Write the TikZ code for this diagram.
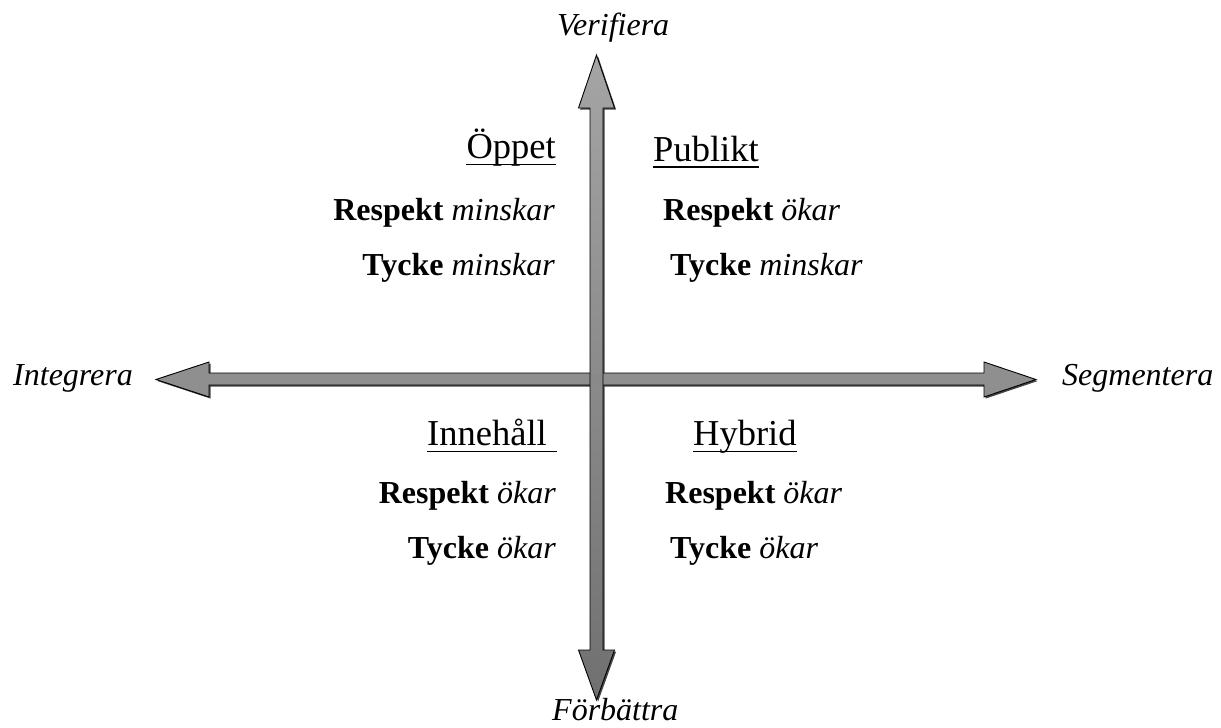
\documentclass[tikz,border=0pt]{standalone}
\usepackage{fontspec}
\setmainfont{Liberation Serif}
\definecolor{hgray}{RGB}{143,143,143}
\definecolor{vtop}{RGB}{165,165,165}
\definecolor{vbot}{RGB}{112,112,112}
\definecolor{shad}{RGB}{70,70,70}
\begin{document}
\begin{tikzpicture}[x=1pt,y=-1pt,
  lbl/.style={inner sep=0pt,font=\fontsize{32}{38}\selectfont},
  head/.style={inner sep=0pt,font=\fontsize{36.5}{42}\selectfont},
  ax/.style={inner sep=0pt,font=\fontsize{32}{38}\selectfont\itshape},
  uline/.style={line width=1.8pt},
  outl/.style={draw=black,line width=0.9pt,line join=miter}]
\useasboundingbox (0,0) rectangle (1221,728);
% arrow shapes
\def\varrow{(596.5,55) -- (614.5,108) -- (603,108) -- (603,650) -- (614.5,650) -- (596.5,700) -- (578.5,650) -- (590,650) -- (590,108) -- (578.5,108) -- cycle}
\def\harrow{(156,379.5) -- (209,362) -- (209,373) -- (984,373) -- (984,362) -- (1036,379.5) -- (984,397) -- (984,385) -- (209,385) -- (209,397) -- cycle}
% shadows
\begin{scope}[shift={(1.6,1.6)}]
\fill[shad] \harrow;
\fill[shad] \varrow;
\end{scope}
% arrows
\path[outl,fill=hgray] \harrow;
\path[outl,top color=vtop,bottom color=vbot] \varrow;
\fill[hgray!96!black] (590.6,373.6) rectangle (602.4,384.4);
% axis labels
\node[ax,anchor=base west] (ver) at (557,35) {Verifiera};
\node[ax,anchor=base west] (forb) at (552,720) {Förbättra};
\node[ax,anchor=base west] (integ) at (13,385) {Integrera};
\node[ax,anchor=base west] (segm) at (1062,385) {Segmentera};
% upper left
\node[head,anchor=base east] (oppet) at (556,158) {Öppet};
\draw[uline] ([yshift=-6.5pt]oppet.base west) -- ([yshift=-6.5pt]oppet.base east);
\node[lbl,anchor=base east] (ul1) at (555,220) {\textbf{Respekt} \textit{minskar}};
\node[lbl,anchor=base east] (ul2) at (555,275) {\textbf{Tycke} \textit{minskar}};
% upper right
\node[head,anchor=base west] (publ) at (653,161) {Publikt};
\draw[uline] ([yshift=-6pt]publ.base west) -- ([yshift=-6pt]publ.base east);
\node[lbl,anchor=base west] (ur1) at (663,220) {\textbf{Respekt} \textit{ökar}};
\node[lbl,anchor=base west] (ur2) at (670,275) {\textbf{Tycke} \textit{minskar}};
% lower left
\node[head,anchor=base west] (inneh) at (427,445) {Innehåll};
\coordinate (innehend) at (557,445);
\draw[uline] ([yshift=-6.5pt]inneh.base west) -- ([yshift=-6.5pt]innehend);
\node[lbl,anchor=base east] (ll1) at (556,503) {\textbf{Respekt} \textit{ökar}};
\node[lbl,anchor=base east] (ll2) at (556,558) {\textbf{Tycke} \textit{ökar}};
% lower right
\node[head,anchor=base west] (hyb) at (693,445) {Hybrid};
\draw[uline] ([yshift=-6.5pt]hyb.base west) -- ([yshift=-6.5pt]hyb.base east);
\node[lbl,anchor=base west] (lr1) at (665,503) {\textbf{Respekt} \textit{ökar}};
\node[lbl,anchor=base west] (lr2) at (670,558) {\textbf{Tycke} \textit{ökar}};
\end{tikzpicture}
\end{document}
